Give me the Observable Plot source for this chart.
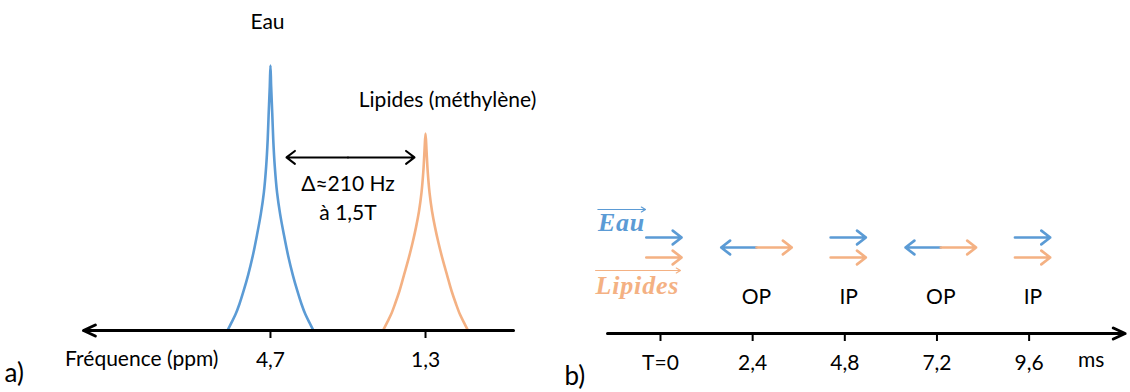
<!DOCTYPE html>
<html><head><meta charset="utf-8">
<script src="https://cdn.jsdelivr.net/npm/d3@7"></script>
<script src="https://cdn.jsdelivr.net/npm/@observablehq/plot@0.6"></script>
<style>
body{margin:0;background:#fff;}
#wrap{display:flex;width:1130px;height:392px;overflow:hidden;}
g[font-style="italic"] text{letter-spacing:0.8px;}
</style></head><body><div id="wrap"></div>
<script>
const BLUE = "#5b9bd5", ORANGE = "#f4b183";

// ---------- Panel a : spectre ----------
const species = ["Eau", "Lipides"];
const peakCenters = [4.7, 1.3];                 // ppm
const speciesLabels = ["Eau", "Lipides (méthylène)"];
// half profiles (offset from centre in ppm, intensity), mirrored for the other side
const waterHalfOffsets   = [0, 0.015, 0.039, 0.061, 0.094, 0.145, 0.211, 0.296, 0.390, 0.489, 0.588, 0.680, 0.768, 0.855, 0.943];
const waterHalfIntensity = [1.0, 0.92, 0.82, 0.72, 0.62, 0.52, 0.44, 0.36, 0.28, 0.21, 0.15, 0.10, 0.06, 0.03, 0];
const lipidHalfOffsets   = [0, 0.022, 0.048, 0.088, 0.143, 0.208, 0.285, 0.373, 0.471, 0.570, 0.669, 0.757, 0.844, 0.932];
const lipidHalfIntensity = [0.743, 0.68, 0.60, 0.52, 0.45, 0.39, 0.33, 0.27, 0.21, 0.15, 0.10, 0.06, 0.03, 0];
const freqTicks = [4.7, 1.3];
const freqAxisExtent = [-0.63, 8.8];            // ppm, arrow drawn towards high ppm
const freqAxisLabel = "Fréquence (ppm)";
const deltaText = ["Δ≈210 Hz", "à 1,5T"];
const deltaLevel = 0.653;

// ---------- Panel b : échos ----------
const echoTimes = [0, 2.4, 4.8, 7.2, 9.6];      // ms
const echoTickLabels = ["T=0", "2,4", "4,8", "7,2", "9,6"];
const phaseLabels = ["", "OP", "IP", "OP", "IP"];
const waterDirection = [1, -1, 1, -1, 1];
const lipidDirection = [1, 1, 1, 1, 1];
const timeAxisExtent = [-1.38, 12.1];           // ms
const timeUnit = "ms";

const fmt = d => String(d).replace(".", ",");

function profile(name, center, offs, ints) {
  const pts = [];
  for (let i = offs.length - 1; i > 0; i--) pts.push({species: name, ppm: center + offs[i], intensity: ints[i]});
  for (let i = 0; i < offs.length; i++) pts.push({species: name, ppm: center - offs[i], intensity: ints[i]});
  return pts;
}
const spectrum = [
  ...profile("Eau", peakCenters[0], waterHalfOffsets, waterHalfIntensity),
  ...profile("Lipides", peakCenters[1], lipidHalfOffsets, lipidHalfIntensity)
];
const apexes = species.map((s, i) => ({species: s, label: speciesLabels[i], ppm: peakCenters[i],
  intensity: i === 0 ? waterHalfIntensity[0] : lipidHalfIntensity[0]}));
const mid = (peakCenters[0] + peakCenters[1]) / 2;

const color = {domain: species, range: [BLUE, ORANGE]};
const font = "Lato, 'Open Sans', sans-serif";
const FS = 21;

const plotA = Plot.plot({
  width: 560, height: 392,
  marginLeft: 0, marginRight: 0, marginTop: 0, marginBottom: 62,
  x: {domain: [10.62, -1.66]},
  y: {domain: [0, 1.245], axis: null},
  color,
  style: {fontFamily: font, fontSize: FS + "px", background: "white", color: "black", overflow: "visible"},
  marks: [
    Plot.line(spectrum, {x: "ppm", y: "intensity", z: "species", stroke: "species", strokeWidth: 2.6, curve: "catmull-rom"}),
    Plot.arrow([0], {x1: freqAxisExtent[0], x2: freqAxisExtent[1], y1: 0, y2: 0, stroke: "black", strokeWidth: 3, headAngle: 50, headLength: 6.5}),
    Plot.axisX({ticks: freqTicks, tickFormat: fmt, tickSize: 8, tickPadding: 14, strokeWidth: 2, fontSize: FS, label: null}),
    Plot.text([freqAxisLabel], {x: freqTicks[0], frameAnchor: "bottom", textAnchor: "end", dx: -52, dy: 35, fontSize: FS}),
    Plot.text(apexes.slice(0, 1), {x: "ppm", y: "intensity", text: "label", dy: -43, dx: -3, fontSize: FS}),
    Plot.text(apexes.slice(1), {x: "ppm", y: "intensity", text: "label", dy: -33, dx: 22, fontSize: FS}),
    Plot.arrow([0], {x1: mid, x2: peakCenters[0], y1: deltaLevel, y2: deltaLevel, insetEnd: 16, stroke: "black", strokeWidth: 2, headAngle: 75, headLength: 8}),
    Plot.arrow([0], {x1: mid, x2: peakCenters[1], y1: deltaLevel, y2: deltaLevel, insetEnd: 11, stroke: "black", strokeWidth: 2, headAngle: 75, headLength: 8}),
    Plot.text([deltaText[0]], {x: mid, y: deltaLevel, dy: 27, fontSize: FS}),
    Plot.text([deltaText[1]], {x: mid, y: deltaLevel, dy: 56, fontSize: FS}),
    Plot.text(["a)"], {frameAnchor: "bottom-left", dx: 4, dy: 51, fontSize: 26})
  ]
});

const shift = 0.1, len = 0.92, ipStart = -0.37;
const arrowsB = [];
echoTimes.forEach((t, i) => {
  const w = waterDirection[i], l = lipidDirection[i];
  if (w === l) {
    arrowsB.push({species: "Eau", x1: t + ipStart, x2: t + ipStart + len * w, y: 1});
    arrowsB.push({species: "Lipides", x1: t + ipStart, x2: t + ipStart + len * l, y: -1});
  } else {
    arrowsB.push({species: "Eau", x1: t + shift, x2: t + shift + len * w, y: 0});
    arrowsB.push({species: "Lipides", x1: t + shift, x2: t + shift + len * l, y: 0});
  }
});
const phases = echoTimes.map((t, i) => ({t, label: phaseLabels[i]})).filter(d => d.label);
const vecLabels = [
  {species: "Eau", x: -1.63, x2: -0.39, ty: 2.5, ay: 3.8},
  {species: "Lipides", x: -1.69, x2: 0.52, ty: -3.8, ay: -2.3}
];

const plotB = Plot.plot({
  width: 570, height: 392,
  marginLeft: 0, marginRight: 0, marginTop: 0, marginBottom: 59,
  x: {domain: [-2.604, 12.24]},
  y: {domain: [-1, 1], range: [257, 237], axis: null},
  color,
  style: {fontFamily: font, fontSize: FS + "px", background: "white", color: "black", overflow: "visible"},
  marks: [
    Plot.arrow([0], {x1: timeAxisExtent[0], x2: timeAxisExtent[1], y1: -8.6, y2: -8.6, stroke: "black", strokeWidth: 3, headAngle: 50, headLength: 6.5}),
    Plot.axisX({ticks: echoTimes, tickFormat: d => echoTickLabels[echoTimes.indexOf(d)], tickSize: 8, tickPadding: 14, strokeWidth: 2, fontSize: FS, label: null}),
    Plot.text([timeUnit], {x: echoTimes[echoTimes.length - 1], frameAnchor: "bottom", dx: 62, dy: 33, fontSize: FS}),
    Plot.arrow(arrowsB, {x1: "x1", x2: "x2", y1: "y", y2: "y", stroke: "species", strokeWidth: 2.6, headAngle: 75, headLength: 6.5}),
    Plot.text(phases, {x: d => d.t + shift, y: -5, text: "label", fontSize: FS}),
    Plot.text(vecLabels, {x: "x", y: "ty", text: "species", fill: "species", textAnchor: "start", fontFamily: "'Liberation Serif', serif", fontStyle: "italic", fontWeight: "bold", fontSize: 26}),
    Plot.arrow(vecLabels, {x1: "x", x2: "x2", y1: "ay", y2: "ay", stroke: "species", strokeWidth: 1.2, headAngle: 60, headLength: 6}),
    Plot.text(["b)"], {frameAnchor: "bottom-left", dx: 4, dy: 51, fontSize: 26})
  ]
});

document.getElementById("wrap").append(plotA, plotB);
</script></body></html>
